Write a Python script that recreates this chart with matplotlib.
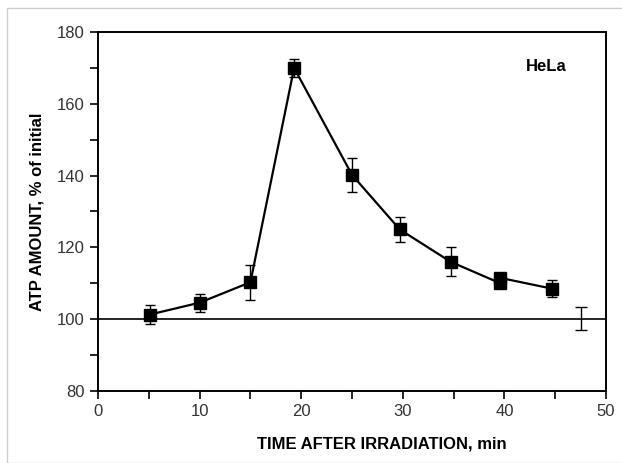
import numpy as np
import matplotlib.pyplot as plt
from matplotlib.ticker import MultipleLocator
from matplotlib.patches import Rectangle

plt.rcParams['font.family'] = ['Liberation Sans', 'DejaVu Sans']

# Data
time_min = [5.1, 10, 15, 19.3, 25, 29.7, 34.7, 39.6, 39.6, 44.7]
atp_pct = [101.3, 104.6, 110.3, 170, 140.2, 125, 116, 110, 111.5, 108.5]
atp_err = [2.6, 2.5, 4.9, 2.6, 4.8, 3.5, 4.0, 1.2, 1.2, 2.3]

ctrl_time = [47.5]
ctrl_pct = [100.2]
ctrl_err = [3.2]

fig = plt.figure(figsize=(6.22, 4.63), dpi=100)
fig.patches.append(Rectangle((0.012, 0.0), 0.99, 0.983, transform=fig.transFigure,
                             fill=False, edgecolor='#cccccc', linewidth=1.0))
ax = fig.add_axes([0.1576, 0.1555, 0.8167, 0.7754])

ax.axhline(100, color='black', linewidth=1.2)
ax.errorbar(time_min, atp_pct, yerr=atp_err, fmt='s-', color='black',
            markersize=8, linewidth=1.6, elinewidth=1.0, capsize=3.5, capthick=1.0)
ax.errorbar(ctrl_time, ctrl_pct, yerr=ctrl_err, fmt='none', ecolor='black',
            elinewidth=1.0, capsize=4, capthick=1.0)

ax.set_xlim(0, 50)
ax.set_ylim(80, 180)
ax.xaxis.set_major_locator(MultipleLocator(10))
ax.xaxis.set_minor_locator(MultipleLocator(5))
ax.yaxis.set_major_locator(MultipleLocator(20))
ax.yaxis.set_minor_locator(MultipleLocator(10))
ax.tick_params(which='both', direction='out', top=False, right=False,
               width=1.2, colors='black')
ax.tick_params(which='major', length=6, labelsize=12, labelcolor='#333333')
ax.tick_params(which='minor', length=6)
for s in ax.spines.values():
    s.set_linewidth(1.4)

ax.set_xlabel('TIME AFTER IRRADIATION, min', fontsize=12, fontweight='bold')
ax.xaxis.set_label_coords(0.559, -0.128)
ax.set_ylabel('ATP AMOUNT, % of initial', fontsize=12, fontweight='bold')
ax.yaxis.set_label_coords(-0.106, 0.5)
ax.text(42.1, 170.5, 'HeLa', fontsize=12, fontweight='bold', ha='left', va='center')

fig.savefig('out.png', dpi=100)
